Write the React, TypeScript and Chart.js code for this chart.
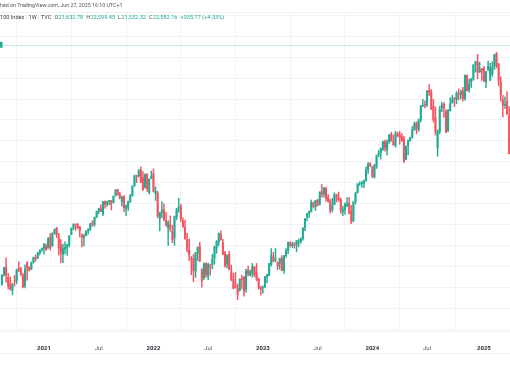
import React, { useEffect, useRef } from 'react';
import { Chart, registerables } from 'chart.js';

Chart.register(...registerables);

// Weekly candles, first bar = week of 17 Aug 2020, last bar = week of 31 Mar 2025
const opens = [
  11180, 11620, 11970, 11500, 11200, 10880, 11300, 11330, 11930, 11900, 11600, 11110, 12200, 11980, 11890, 12230, 12460, 12440, 12660, 12830,
  12900, 13000, 12900, 13400, 13000, 13620, 13860, 13430, 13050, 12600, 12850, 12950, 13060, 13550, 13850, 14030, 14040, 13920, 13510, 13400,
  13500, 13720, 13790, 14080, 14030, 14370, 14660, 14800, 14520, 15120, 15000, 15110, 15170, 15080, 15400, 15690, 15470, 15100, 15350, 14780,
  14850, 15120, 15400, 15870, 16350, 16340, 16630, 16260, 15800, 16400, 15560, 16240, 16440, 15500, 15500, 14300, 14600, 14720, 14200, 13850,
  14000, 13700, 13400, 14380, 14800, 14860, 14200, 13900, 13300, 12800, 12400, 12400, 11800, 12670, 12980, 11860, 11500, 12180, 11560, 12060,
  12120, 12430, 12900, 13190, 13560, 13150, 12660, 12150, 12600, 11790, 11400, 11100, 11000, 10890, 11460, 11500, 10950, 11850, 11610, 11700,
  11990, 11700, 11430, 11010, 11030, 11070, 11530, 11600, 12120, 12480, 12340, 12200, 12150, 12420, 11830, 12540, 12790, 13160, 13020, 13070,
  13070, 13240, 13220, 13350, 13890, 14400, 14550, 14640, 15040, 14880, 15180, 14980, 15580, 15480, 15740, 15320, 15140, 14740, 14980, 15430,
  15280, 15200, 14640, 14730, 14900, 15040, 14640, 14200, 15120, 15560, 15980, 15960, 15980, 16130, 16650, 16910, 16780, 16290, 16800, 17360,
  17450, 17600, 17970, 17570, 17950, 18300, 18000, 17800, 18350, 18270, 18200, 18110, 17130, 17780, 18020, 18200, 18570, 18860, 18580, 19010,
  19680, 19730, 19720, 20400, 20350, 19670, 19100, 17670, 18450, 19580, 19740, 19400, 18500, 19440, 19830, 20040, 19960, 20260, 20230, 20400,
  20030, 21130, 20430, 20800, 20950, 21640, 21780, 21300, 21430, 21480, 20800, 21400, 20900, 21200, 21540, 22150, 21650, 20800, 19950, 19700,
  19900, 19200
];
const highs = [
  11640, 12000, 12439, 11700, 11520, 11220, 11600, 11900, 12249, 11980, 11700, 12100, 12260, 12020, 12240, 12470, 12570, 12700, 12820, 12910,
  13110, 13100, 13400, 13600, 13630, 13800, 13880, 13600, 13300, 13090, 13200, 13080, 13480, 13850, 14060, 14060, 14070, 13930, 13580, 13570,
  13730, 13830, 14070, 14200, 14380, 14660, 14800, 14960, 15130, 15150, 15140, 15180, 15180, 15380, 15700, 15700, 15560, 15380, 15400, 14960,
  15140, 15460, 15860, 16380, 16370, 16650, 16765, 16540, 16440, 16450, 16200, 16570, 16670, 15820, 15600, 14610, 15110, 15010, 14600, 14200,
  14430, 13980, 14420, 14800, 15270, 15000, 14340, 14240, 13600, 13330, 12500, 12600, 12700, 12960, 13170, 11930, 12200, 12200, 12190, 12130,
  12600, 12990, 13260, 13620, 13720, 13320, 12740, 12580, 12740, 12090, 11700, 11740, 11200, 11430, 11610, 11560, 11900, 12040, 11850, 12170,
  12030, 12170, 11460, 11080, 11100, 11550, 11660, 12170, 12880, 12700, 12880, 12250, 12430, 12540, 12560, 12880, 13190, 13200, 13190, 13170,
  13260, 13330, 13390, 13870, 14300, 14550, 14670, 15190, 15100, 15180, 15230, 15580, 15930, 15790, 15800, 15450, 15220, 15280, 15540, 15470,
  15570, 15270, 14900, 15050, 15300, 15320, 14930, 15110, 15560, 15970, 16060, 16090, 16150, 16770, 16970, 16970, 16790, 16890, 17330, 17560,
  17680, 18000, 18040, 18050, 18310, 18420, 18290, 18470, 18420, 18460, 18370, 18230, 17780, 18050, 18190, 18690, 18910, 18910, 19050, 19700,
  19980, 19910, 20400, 20690, 20450, 19980, 19620, 18530, 19650, 19850, 19830, 19500, 19500, 20070, 20180, 20080, 20350, 20480, 20430, 20550,
  21150, 21140, 20950, 20990, 21630, 21800, 22130, 21750, 21460, 21560, 21310, 21800, 21700, 21770, 22130, 22222, 21700, 21050, 20180, 20100,
  20350, 19640
];
const lows = [
  11120, 11560, 11280, 10960, 10900, 10677, 11090, 11200, 11780, 11580, 11000, 11000, 11370, 11800, 11870, 12190, 12280, 12400, 12580, 12740,
  12610, 12800, 12880, 12800, 12990, 13560, 13400, 12570, 12210, 12210, 12620, 12550, 12960, 13530, 13780, 13740, 13830, 13430, 12950, 13000,
  13480, 13560, 13740, 13930, 13940, 14360, 14530, 14640, 14450, 14800, 14890, 14960, 14720, 15050, 15380, 15420, 15240, 14900, 14630, 14450,
  14700, 15070, 15360, 15840, 16020, 16280, 16020, 15630, 15750, 15600, 15480, 16200, 15570, 15170, 14340, 13720, 14350, 14200, 13930, 13020,
  13700, 13150, 13030, 14240, 14600, 14160, 13900, 13320, 12720, 12300, 11630, 11300, 11500, 12310, 12270, 11040, 11400, 11500, 11400, 11610,
  11920, 12130, 12650, 13010, 13290, 12600, 11990, 11950, 11860, 11340, 10960, 11000, 10440, 10850, 10960, 10610, 10790, 11580, 11580, 11510,
  11530, 11340, 10950, 10670, 10750, 11000, 11250, 11590, 12040, 12240, 12240, 11880, 11900, 11820, 11690, 12450, 12640, 12960, 12920, 12900,
  12720, 12960, 13120, 13280, 13730, 14200, 14350, 14620, 14810, 14690, 14900, 14950, 15330, 15320, 15130, 15090, 14560, 14620, 14960, 15100,
  15130, 14550, 14450, 14500, 14880, 14530, 14060, 14150, 15000, 15520, 15880, 15790, 15780, 16080, 16460, 16780, 16250, 16230, 16690, 17250,
  17130, 17550, 17520, 17330, 17880, 17980, 17800, 17700, 18200, 17850, 17990, 16970, 17100, 17340, 17990, 18130, 18500, 18340, 18450, 18910,
  19630, 19580, 19640, 20170, 19500, 18900, 18280, 17270, 18340, 19400, 19120, 18400, 18450, 19430, 19800, 19640, 19770, 19960, 20000, 19900,
  19930, 20380, 20330, 20550, 20890, 21280, 20960, 21250, 20880, 20840, 20540, 21340, 20870, 21080, 21400, 21480, 20630, 19900, 19150, 19550,
  19270, 17380
];
const closes = [
  11600, 11960, 11620, 11090, 10940, 11170, 11290, 11850, 11870, 11670, 11050, 11900, 11940, 11860, 12220, 12460, 12380, 12660, 12800, 12890,
  13100, 12810, 13370, 12930, 13610, 13800, 13530, 12900, 12670, 12870, 12950, 13060, 13480, 13850, 14040, 14020, 13860, 13720, 13430, 13470,
  13690, 13770, 14070, 14030, 14360, 14640, 14770, 14650, 15110, 14960, 15100, 15170, 15010, 15370, 15650, 15440, 15310, 15320, 14830, 14900,
  15130, 15350, 15850, 16340, 16330, 16570, 16030, 15710, 16400, 15730, 16180, 16320, 15610, 15610, 14440, 14580, 14710, 14250, 14000, 14120,
  13840, 13300, 14420, 14760, 14860, 14290, 13900, 13350, 12850, 12580, 12390, 11830, 12680, 12940, 12270, 11350, 12140, 11640, 12130, 11990,
  12390, 12950, 13210, 13600, 13280, 12600, 12070, 12560, 11890, 11400, 10970, 11040, 10690, 11430, 11400, 10860, 11800, 11680, 11780, 12030,
  11630, 11420, 11020, 10940, 11040, 11540, 11620, 12170, 12570, 12300, 12360, 12050, 12400, 11830, 12520, 12770, 13180, 13060, 13080, 13040,
  13250, 13240, 13340, 13860, 14300, 14550, 14630, 15080, 14890, 15180, 14940, 15570, 15470, 15750, 15270, 15130, 14690, 14940, 15440, 15290,
  15200, 14700, 14720, 14990, 15000, 14560, 14180, 15100, 15520, 15950, 15980, 16000, 16080, 16620, 16900, 16830, 16310, 16830, 17310, 17420,
  17640, 17960, 17690, 17940, 18300, 18020, 17810, 18340, 18250, 18180, 18000, 17040, 17720, 18000, 18160, 18550, 18810, 18540, 19000, 19660,
  19700, 19680, 20390, 20330, 19520, 19020, 18440, 18430, 19510, 19720, 19570, 18420, 19460, 19790, 20000, 20010, 20270, 20220, 20350, 20030,
  21120, 20390, 20740, 20930, 21620, 21780, 21290, 21430, 21330, 20850, 21300, 21550, 21480, 21490, 22120, 21610, 20880, 20200, 19700, 19750,
  19280, 17400
];

const tickIndex = [20, 46, 72, 98, 124, 150, 176, 202, 229];
const tickLabels = ['2021', 'Jul', '2022', 'Jul', '2023', 'Jul', '2024', 'Jul', '2025'];
const priceGrid = [9000, 10000, 11000, 12000, 13000, 14000, 15000, 16000, 17000, 18000, 19000, 20000, 21000, 22000, 23000, 24000];
const lastClose = 22582.16;

const headerLine1 = 'Published on TradingView.com, Jun 27, 2025 16:10 UTC+1';
const headerCut1 = 'Publis';
const symbolName = 'US 100 Index · 1W · TVC';
const symbolCut = 'US ';
const ohlcLetters = ['O', 'H', 'L', 'C'];
const ohlcValues = ['21,632.78', '22,599.45', '21,532.32', '22,582.16'];
const changeText = '+935.77 (+4.33%)';

const UP = '#22ab94';
const DOWN = '#f7525f';
const FONT = 'Roboto, "Noto Sans", sans-serif';

export default function App() {
  const ref = useRef<HTMLCanvasElement | null>(null);

  useEffect(() => {
    if (!ref.current) return;
    const idx = closes.map((_, i) => i);
    const colors = idx.map((i) => (closes[i] >= opens[i] ? UP : DOWN));

    const overlay = {
      id: 'overlay',
      beforeDatasetsDraw(chart: any) {
        const { ctx, chartArea } = chart;
        const y = Math.round(chart.scales.y.getPixelForValue(lastClose)) + 0.5;
        ctx.save();
        ctx.strokeStyle = 'rgba(34,171,148,0.25)';
        ctx.lineWidth = 1;
        ctx.beginPath();
        ctx.moveTo(chartArea.left, y);
        ctx.lineTo(chartArea.right, y);
        ctx.stroke();
        ctx.restore();
      },
      afterDraw(chart: any) {
        const { ctx, chartArea } = chart;
        ctx.save();
        ctx.strokeStyle = '#eef0f4';
        ctx.lineWidth = 1;
        ctx.beginPath();
        ctx.moveTo(0, chartArea.top + 0.5);
        ctx.lineTo(510, chartArea.top + 0.5);
        ctx.moveTo(0, 353.5);
        ctx.lineTo(510, 353.5);
        ctx.stroke();
        const py = chart.scales.y.getPixelForValue(lastClose);
        ctx.fillStyle = UP;
        ctx.fillRect(0, py - 3, 2.5, 6);
        ctx.textBaseline = 'middle';
        ctx.textAlign = 'left';
        ctx.font = `5.3px ${FONT}`;
        ctx.fillStyle = '#50535e';
        let x = -ctx.measureText(headerCut1).width;
        ctx.fillText(headerLine1, x, 6);
        ctx.font = `5.6px ${FONT}`;
        ctx.fillStyle = '#3a3d47';
        x = -ctx.measureText(symbolCut).width;
        ctx.fillText(symbolName, x, 18);
        x += ctx.measureText(symbolName).width + 3;
        for (let k = 0; k < ohlcLetters.length; k++) {
          ctx.fillStyle = '#50535e';
          ctx.fillText(ohlcLetters[k], x, 18);
          x += ctx.measureText(ohlcLetters[k]).width + 0.3;
          ctx.fillStyle = UP;
          ctx.fillText(ohlcValues[k], x, 18);
          x += ctx.measureText(ohlcValues[k]).width + 3;
        }
        ctx.fillStyle = UP;
        ctx.fillText(changeText, x, 18);
        ctx.restore();
      },
    };

    const chart = new Chart(ref.current, {
      type: 'bar',
      data: {
        datasets: [
          {
            label: 'wick',
            data: idx.map((i) => ({ x: i, y: [lows[i], highs[i]] })) as any,
            backgroundColor: colors,
            barThickness: 0.8,
            grouped: false,
            order: 2,
          } as any,
          {
            label: 'body',
            data: idx.map((i) => ({ x: i, y: [opens[i], closes[i]] })) as any,
            backgroundColor: colors,
            barThickness: 1.4,
            grouped: false,
            order: 1,
          } as any,
        ],
      },
      options: {
        animation: false,
        responsive: false,
        maintainAspectRatio: false,
        layout: { padding: { top: 12, left: 0, right: 0, bottom: 0 } },
        plugins: { legend: { display: false }, tooltip: { enabled: false } },
        scales: {
          x: {
            type: 'linear',
            min: -0.9,
            max: 241.4,
            offset: false,
            afterBuildTicks: (s: any) => {
              s.ticks = tickIndex.map((v) => ({ value: v }));
            },
            afterFit: (s: any) => {
              s.height = 38;
            },
            grid: { color: '#f0f3fa', drawTicks: false, lineWidth: 1 },
            border: { display: true, color: '#eef0f4' },
            ticks: {
              padding: 14,
              autoSkip: false,
              maxRotation: 0,
              callback: (_v: any, i: number) => tickLabels[i],
              color: (c: any) => (c.index % 2 === 0 ? '#2a2e39' : '#50535e'),
              font: (c: any) => ({ family: FONT, size: 6, weight: c.index % 2 === 0 ? 'bold' : 'normal' }),
            },
          },
          y: {
            type: 'linear',
            position: 'right',
            min: 8952,
            max: 24143,
            afterBuildTicks: (s: any) => {
              s.ticks = priceGrid.map((v) => ({ value: v }));
            },
            afterFit: (s: any) => {
              s.width = 0;
            },
            grid: { color: '#f0f3fa', drawTicks: false, lineWidth: 1 },
            border: { display: false },
            ticks: { display: false },
          },
        },
      } as any,
      plugins: [overlay],
    });
    return () => chart.destroy();
  }, []);

  return (
    <div style={{ position: 'fixed', left: 0, top: 0, width: 510, height: 369, overflow: 'hidden', background: '#ffffff' }}>
      <canvas ref={ref} width={510} height={369} style={{ width: 510, height: 369, display: 'block' }} />
    </div>
  );
}
